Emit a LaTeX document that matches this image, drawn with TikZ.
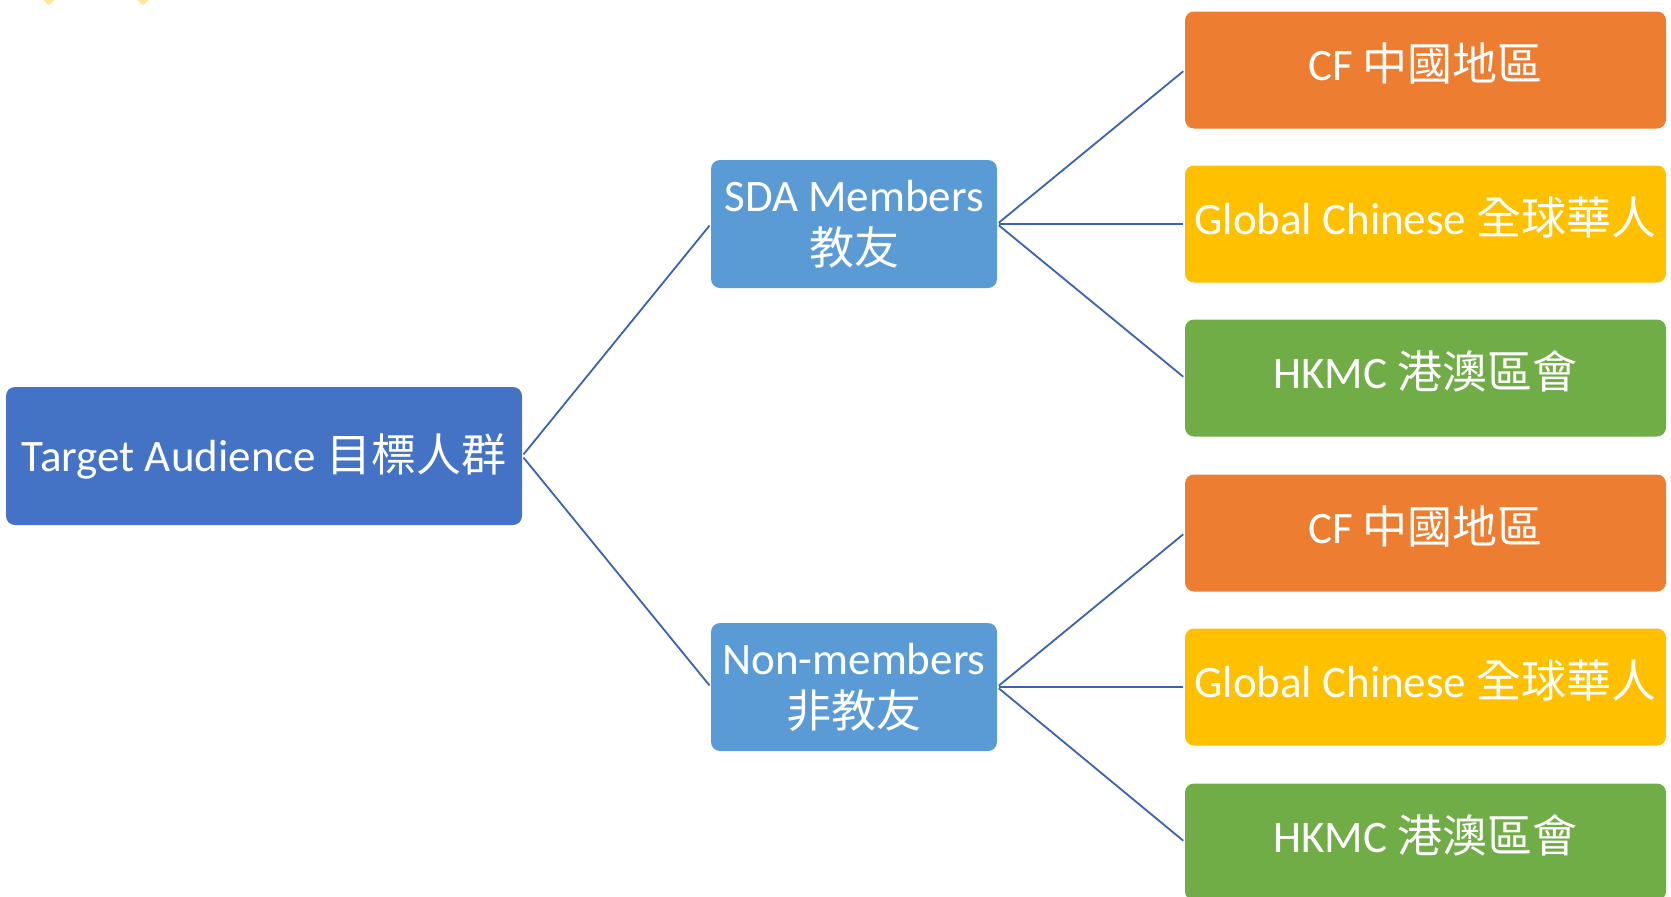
\documentclass[tikz,border=0pt]{standalone}
\usepackage{fontspec}
\setmainfont{Carlito}
\newfontfamily\cjk{Noto Sans CJK TC}
\usetikzlibrary{positioning}

\definecolor{rootblue}{HTML}{4472C4}
\definecolor{midblue}{HTML}{5B9BD5}
\definecolor{cforange}{HTML}{ED7D31}
\definecolor{gcyellow}{HTML}{FFC000}
\definecolor{hkgreen}{HTML}{70AD47}
\definecolor{linkblue}{HTML}{3A62B0}
\definecolor{markyellow}{HTML}{FFE699}

\begin{document}
\begin{tikzpicture}[x=1pt,y=-1pt,
  box/.style={rectangle,rounded corners=9pt,inner sep=0pt,text=white,align=center,
    font=\fontsize{45}{53}\selectfont},
  leaf/.style={box,minimum width=481,minimum height=117,text height=36,text depth=16},
  link/.style={draw=linkblue,line width=1.8pt,shorten <=2pt,shorten >=2pt}]

\useasboundingbox (0,0) rectangle (1671,897);
\clip (0,0) rectangle (1671,897);

% bits of shapes cut off at the top edge
\fill[markyellow] (43,0) -- (55,0) -- (49,5) -- cycle;
\fill[markyellow] (137,0) -- (149,0) -- (143,5) -- cycle;

\node[box,fill=rootblue,minimum width=516,minimum height=138] (Root) at (264,456) {Target Audience {\cjk 目標人群}};

\node[box,fill=midblue,minimum width=286,minimum height=128] (SDA) at (854,224) {SDA Members\\{\cjk 教友}};
\node[box,fill=midblue,minimum width=286,minimum height=128] (Non) at (854,687) {Non-members\\{\cjk 非教友}};

\node[leaf,fill=cforange] (CF1) at (1425.5,70) {CF {\cjk 中國地區}};
\node[leaf,fill=gcyellow] (GC1) at (1425.5,224) {Global Chinese {\cjk 全球華人}};
\node[leaf,fill=hkgreen] (HK1) at (1425.5,378) {HKMC {\cjk 港澳區會}};
\node[leaf,fill=cforange] (CF2) at (1425.5,533) {CF {\cjk 中國地區}};
\node[leaf,fill=gcyellow] (GC2) at (1425.5,687) {Global Chinese {\cjk 全球華人}};
\node[leaf,fill=hkgreen] (HK2) at (1425.5,842) {HKMC {\cjk 港澳區會}};

\draw[link] (Root.east) -- (SDA.west);
\draw[link] (Root.east) -- (Non.west);

\draw[link] (SDA.east) -- (CF1.west);
\draw[link] (SDA.east) -- (GC1.west);
\draw[link] (SDA.east) -- (HK1.west);

\draw[link] (Non.east) -- (CF2.west);
\draw[link] (Non.east) -- (GC2.west);
\draw[link] (Non.east) -- (HK2.west);

\end{tikzpicture}
\end{document}
